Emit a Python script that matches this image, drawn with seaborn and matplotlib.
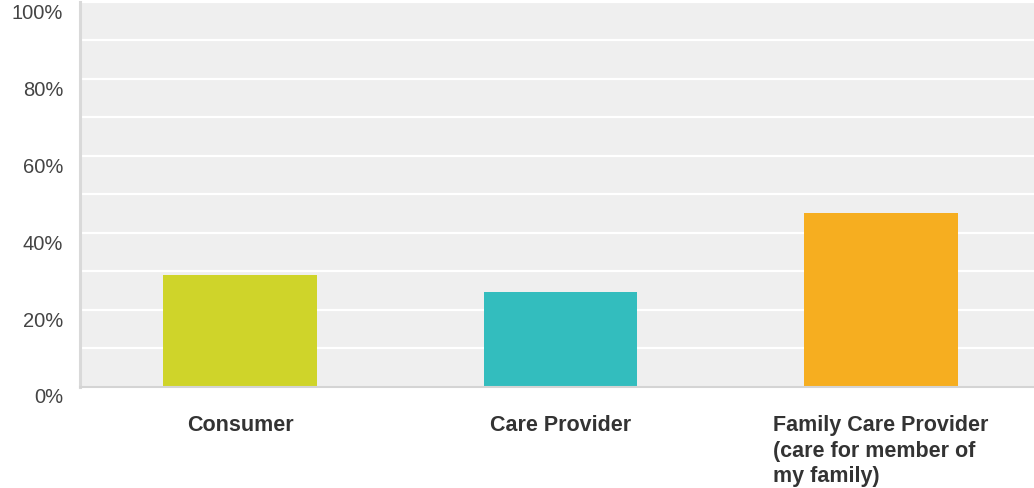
import matplotlib
matplotlib.use("Agg")
import matplotlib.pyplot as plt
import matplotlib.transforms as mtransforms
import seaborn as sns
import pandas as pd
from matplotlib.ticker import MultipleLocator, FuncFormatter

categories = ["Consumer", "Care Provider",
              "Family Care Provider\n(care for member of\nmy family)"]
shares = [0.29, 0.245, 0.45]
bar_colors = ["#CFD42A", "#33BDBE", "#F6AE20"]

sns.set_theme(style="white")
plt.rcParams["font.family"] = ["Liberation Sans", "DejaVu Sans"]

df = pd.DataFrame({"category": categories, "share": shares})

fig = plt.figure(figsize=(10.34, 4.89), dpi=100)
ax = fig.add_axes([80 / 1034, 101.5 / 489, 1 - 80 / 1034, 384.5 / 489])
ax.set_facecolor("#EFEFEF")

sns.barplot(data=df, x="category", y="share", hue="category",
            palette=bar_colors, legend=False, width=0.48, saturation=1,
            linewidth=0, ax=ax)

ax.set_ylim(0, 1)
ax.set_xlim(-0.5, 2.478)
ax.yaxis.set_major_locator(MultipleLocator(0.2))
ax.yaxis.set_minor_locator(MultipleLocator(0.1))
ax.yaxis.set_major_formatter(FuncFormatter(lambda v, _: f"{v * 100:.0f}%"))
ax.grid(axis="y", which="both", color="white", linewidth=1.6)
ax.set_axisbelow(True)

ax.set_xlabel("")
ax.set_ylabel("")
ax.tick_params(axis="y", which="both", length=0, pad=12,
               labelsize=14.5, labelcolor="#444444")
ax.tick_params(axis="x", length=0, pad=20)

# y labels sit a little below their gridlines
shift_down = mtransforms.ScaledTranslation(0, -8.5 / 100, fig.dpi_scale_trans)
for lab in ax.get_yticklabels():
    lab.set_transform(lab.get_transform() + shift_down)

for lab in ax.get_xticklabels():
    lab.set_fontsize(15.5)
    lab.set_fontweight("bold")
    lab.set_color("#333333")
    lab.set_multialignment("left")
    lab.set_verticalalignment("top")
    lab.set_linespacing(1.28)

for side in ("top", "right"):
    ax.spines[side].set_visible(False)
ax.spines["left"].set_color("#D9D9D9")
ax.spines["left"].set_linewidth(2.2)
ax.spines["bottom"].set_color("#D4D4D4")
ax.spines["bottom"].set_linewidth(1.5)

fig.savefig("out.png", dpi=100, facecolor="white")
